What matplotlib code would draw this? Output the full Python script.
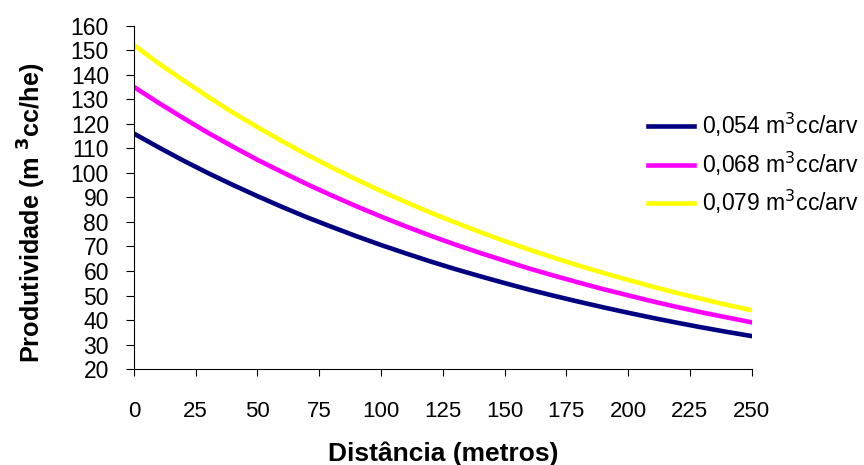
import matplotlib.pyplot as plt

plt.rcParams['font.family'] = ['Liberation Sans', 'DejaVu Sans']

# Distance (m) and productivity (m3cc/he)
distancia = [0, 10, 20, 30, 40, 50, 60, 70, 80, 90, 100, 110, 120, 130,
             140, 150, 160, 170, 180, 190, 200, 210, 220, 230, 240, 250]
prod_054 = [116.0, 110.4, 105.0, 99.9, 95.1, 90.5, 86.1, 81.9, 78.0, 74.2,
            70.6, 67.2, 63.9, 60.8, 57.9, 55.1, 52.4, 49.9, 47.5, 45.2,
            43.0, 40.9, 38.9, 37.0, 35.2, 33.5]
prod_068 = [135.0, 128.5, 122.3, 116.3, 110.7, 105.3, 100.3, 95.4, 90.8, 86.4,
            82.2, 78.2, 74.4, 70.8, 67.4, 64.2, 61.0, 58.1, 55.3, 52.6,
            50.1, 47.6, 45.3, 43.1, 41.1, 39.1]
prod_079 = [152.0, 144.6, 137.7, 131.0, 124.6, 118.6, 112.9, 107.4, 102.2, 97.3,
            92.6, 88.1, 83.8, 79.8, 75.9, 72.2, 68.7, 65.4, 62.2, 59.2,
            56.4, 53.6, 51.0, 48.6, 46.2, 44.0]
labels = ['0,054 m$^3$cc/arv', '0,068 m$^3$cc/arv', '0,079 m$^3$cc/arv']
colors = ['#000080', '#FF00FF', '#FFFF00']

fig = plt.figure(figsize=(8.64, 4.65), dpi=100)
ax = fig.add_axes([0.155, 0.206, 0.715, 0.739])

for y, lab, c in zip([prod_054, prod_068, prod_079], labels, colors):
    ax.plot(distancia, y, color=c, lw=3.3, label=lab)

ax.set_xlim(0, 250)
ax.set_ylim(20, 160)
ax.set_xticks(range(0, 251, 25))
ax.set_yticks(range(20, 161, 10))
ax.spines['top'].set_visible(False)
ax.spines['right'].set_visible(False)
ax.tick_params(axis='x', labelsize=16, length=5, pad=18)
ax.tick_params(axis='y', labelsize=16.5, length=6, pad=12)

ax.set_xlabel('Distância (metros)', fontsize=19, fontweight='bold', labelpad=14)
ax.set_ylabel(r'Produtividade (m $^{\mathbf{3}}$cc/he)', fontsize=18.2,
              fontweight='bold', labelpad=16)
ax.yaxis.label.set_y(0.455)

fig.legend(loc='center left', bbox_to_anchor=(0.75, 0.648), frameon=False,
           fontsize=16.5, handlelength=2.0, handletextpad=0.35,
           labelspacing=0.45, borderpad=0, borderaxespad=0)

plt.savefig('out.png', dpi=100)
